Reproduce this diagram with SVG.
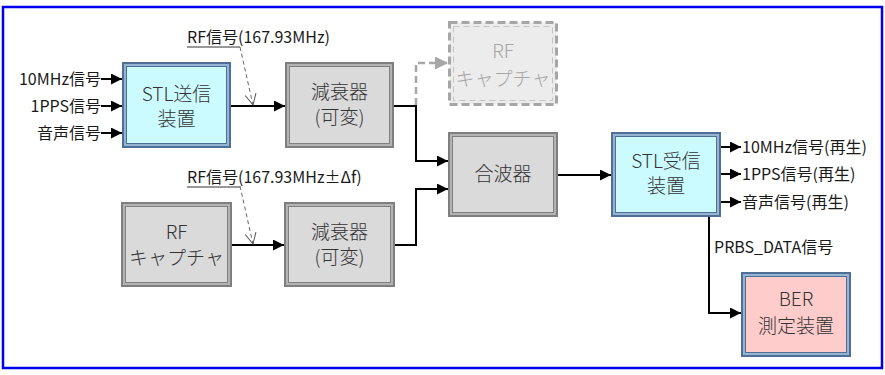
<svg xmlns="http://www.w3.org/2000/svg" width="885" height="375" viewBox="0 0 885 375">
  <defs>
    <marker id="arr" markerUnits="userSpaceOnUse" markerWidth="11" markerHeight="11" refX="11" refY="5.5" orient="auto">
      <path d="M0,0 L11,5.5 L0,11 z" fill="#000"/>
    </marker>
    <marker id="arrGray" markerUnits="userSpaceOnUse" markerWidth="13" markerHeight="13" refX="13" refY="6.5" orient="auto">
      <path d="M0,0 L13,6.5 L0,13 z" fill="#a6a6a6"/>
    </marker>
    <marker id="vee" markerUnits="userSpaceOnUse" markerWidth="12" markerHeight="12" refX="11" refY="6" orient="auto">
      <path d="M0,0.5 L11,6 L0,11.5" fill="none" stroke="#555" stroke-width="1"/>
    </marker>
  </defs>
  <style>
    text { font-family: "Noto Sans CJK JP", "Noto Sans", sans-serif; fill: #1a1a1a; }
    .lbl { font-size: 16px; }
    .box { font-size: 19px; font-weight: 300; text-anchor: middle; fill: #333; }
    .ghost { fill: #a6a6a6; }
    .wire { fill: none; stroke: #000; stroke-width: 2; }
    .hint { fill: none; stroke: #666; stroke-width: 1; stroke-dasharray: 4 3; }
    .under { stroke: #333; stroke-width: 1; }
    .b-out { fill: #4f6f96; }
    .b-band { fill: #95b3d3; }
    .b-in { stroke: #4f6f96; stroke-width: 1; }
    .g-out { fill: #7f7f7f; }
    .g-band { fill: #b3b3b3; }
    .g-in { fill: #dadada; stroke: #808080; stroke-width: 1; }
    .cyan { fill: #ccfbff; }
    .pink { fill: #ffcccc; }
  </style>

  <!-- frame -->
  <rect x="3" y="7" width="879" height="361" fill="#fff" stroke="#0000ee" stroke-width="2.5"/>

  <!-- connectors -->
  <g id="connectors">
    <line class="wire" x1="101" y1="79" x2="122" y2="79" marker-end="url(#arr)"/>
    <line class="wire" x1="101" y1="106" x2="122" y2="106" marker-end="url(#arr)"/>
    <line class="wire" x1="101" y1="133" x2="122" y2="133" marker-end="url(#arr)"/>
    <line class="wire" x1="231" y1="106" x2="285" y2="106" marker-end="url(#arr)"/>
    <line class="wire" x1="232" y1="245" x2="284" y2="245" marker-end="url(#arr)"/>
    <polyline class="wire" points="394,106 416,106 416,161 448,161" marker-end="url(#arr)"/>
    <polyline class="wire" points="395,245 416,245 416,189 448,189" marker-end="url(#arr)"/>
    <polyline points="416,105 416,63 448,63" fill="none" stroke="#a6a6a6" stroke-width="2.5" stroke-dasharray="7 4" marker-end="url(#arrGray)"/>
    <line class="wire" x1="558" y1="175" x2="611" y2="175" marker-end="url(#arr)"/>
    <line class="wire" x1="721" y1="147" x2="741" y2="147" marker-end="url(#arr)"/>
    <line class="wire" x1="721" y1="174" x2="741" y2="174" marker-end="url(#arr)"/>
    <line class="wire" x1="721" y1="202" x2="741" y2="202" marker-end="url(#arr)"/>
    <polyline class="wire" points="709,217 709,313 741,313" marker-end="url(#arr)"/>
    <!-- signal annotations -->
    <line class="hint" x1="240" y1="47" x2="253" y2="105" marker-end="url(#vee)"/>
    <line class="hint" x1="240" y1="186" x2="253" y2="244" marker-end="url(#vee)"/>
  </g>

  <!-- labels -->
  <g id="labels">
    <text class="lbl" x="101" y="85" text-anchor="end">10MHz信号</text>
    <text class="lbl" x="101" y="112" text-anchor="end">1PPS信号</text>
    <text class="lbl" x="101" y="139" text-anchor="end">音声信号</text>
    <text class="lbl" x="187" y="43">RF信号(167.93MHz)</text>
    <line class="under" x1="187" y1="47" x2="240" y2="47"/>
    <text class="lbl" x="187" y="183">RF信号(167.93MHz±Δf)</text>
    <line class="under" x1="187" y1="187" x2="240" y2="187"/>
    <text class="lbl" x="742" y="153">10MHz信号(再生)</text>
    <text class="lbl" x="742" y="180">1PPS信号(再生)</text>
    <text class="lbl" x="742" y="208">音声信号(再生)</text>
    <text class="lbl" x="714" y="253">PRBS_DATA信号</text>
  </g>

  <!-- STL transmitter -->
  <g id="stl-tx">
    <rect class="b-out" x="122" y="62" width="109" height="86"/>
    <rect class="b-band" x="124" y="64" width="105" height="82"/>
    <rect class="cyan b-in" x="126.5" y="66.5" width="100" height="77"/>
    <text class="box" x="176.5" y="101">STL送信</text>
    <text class="box" x="176.5" y="126">装置</text>
  </g>

  <!-- attenuator (upper) -->
  <g id="att-1">
    <rect class="g-out" x="285" y="62" width="109" height="86"/>
    <rect class="g-band" x="287" y="64" width="105" height="82"/>
    <rect class="g-in" x="289.5" y="66.5" width="100" height="77"/>
    <text class="box" x="339.5" y="99">減衰器</text>
    <text class="box" x="339.5" y="124">(可変)</text>
  </g>

  <!-- RF capture (optional, dashed) -->
  <g id="rf-cap-1">
    <rect x="449.5" y="22.5" width="107" height="82" fill="#ececec" stroke="#a6a6a6" stroke-width="3" stroke-dasharray="8 4"/>
    <rect x="453.5" y="26.5" width="99" height="74" fill="none" stroke="#c4c4c4" stroke-width="1" stroke-dasharray="6 4"/>
    <text class="box ghost" x="503" y="58">RF</text>
    <text class="box ghost" x="503" y="86">キャプチャ</text>
  </g>

  <!-- RF capture (lower) -->
  <g id="rf-cap-2">
    <rect class="g-out" x="121" y="202" width="111" height="85"/>
    <rect class="g-band" x="123" y="204" width="107" height="81"/>
    <rect class="g-in" x="125.5" y="206.5" width="102" height="76"/>
    <text class="box" x="176.5" y="239">RF</text>
    <text class="box" x="176.5" y="265">キャプチャ</text>
  </g>

  <!-- attenuator (lower) -->
  <g id="att-2">
    <rect class="g-out" x="284" y="202" width="111" height="85"/>
    <rect class="g-band" x="286" y="204" width="107" height="81"/>
    <rect class="g-in" x="288.5" y="206.5" width="102" height="76"/>
    <text class="box" x="339.5" y="239">減衰器</text>
    <text class="box" x="339.5" y="264">(可変)</text>
  </g>

  <!-- combiner -->
  <g id="combiner">
    <rect class="g-out" x="448" y="132" width="110" height="85"/>
    <rect class="g-band" x="450" y="134" width="106" height="81"/>
    <rect class="g-in" x="452.5" y="136.5" width="101" height="76"/>
    <text class="box" x="503" y="181">合波器</text>
  </g>

  <!-- STL receiver -->
  <g id="stl-rx">
    <rect class="b-out" x="611" y="132" width="110" height="85"/>
    <rect class="b-band" x="613" y="134" width="106" height="81"/>
    <rect class="cyan b-in" x="615.5" y="136.5" width="101" height="76"/>
    <text class="box" x="666" y="168">STL受信</text>
    <text class="box" x="666" y="193">装置</text>
  </g>

  <!-- BER tester -->
  <g id="ber">
    <rect class="b-out" x="741" y="272" width="110" height="85"/>
    <rect class="b-band" x="743" y="274" width="106" height="81"/>
    <rect class="pink b-in" x="745.5" y="276.5" width="101" height="76"/>
    <text class="box" x="796" y="306">BER</text>
    <text class="box" x="796" y="333">測定装置</text>
  </g>
</svg>
